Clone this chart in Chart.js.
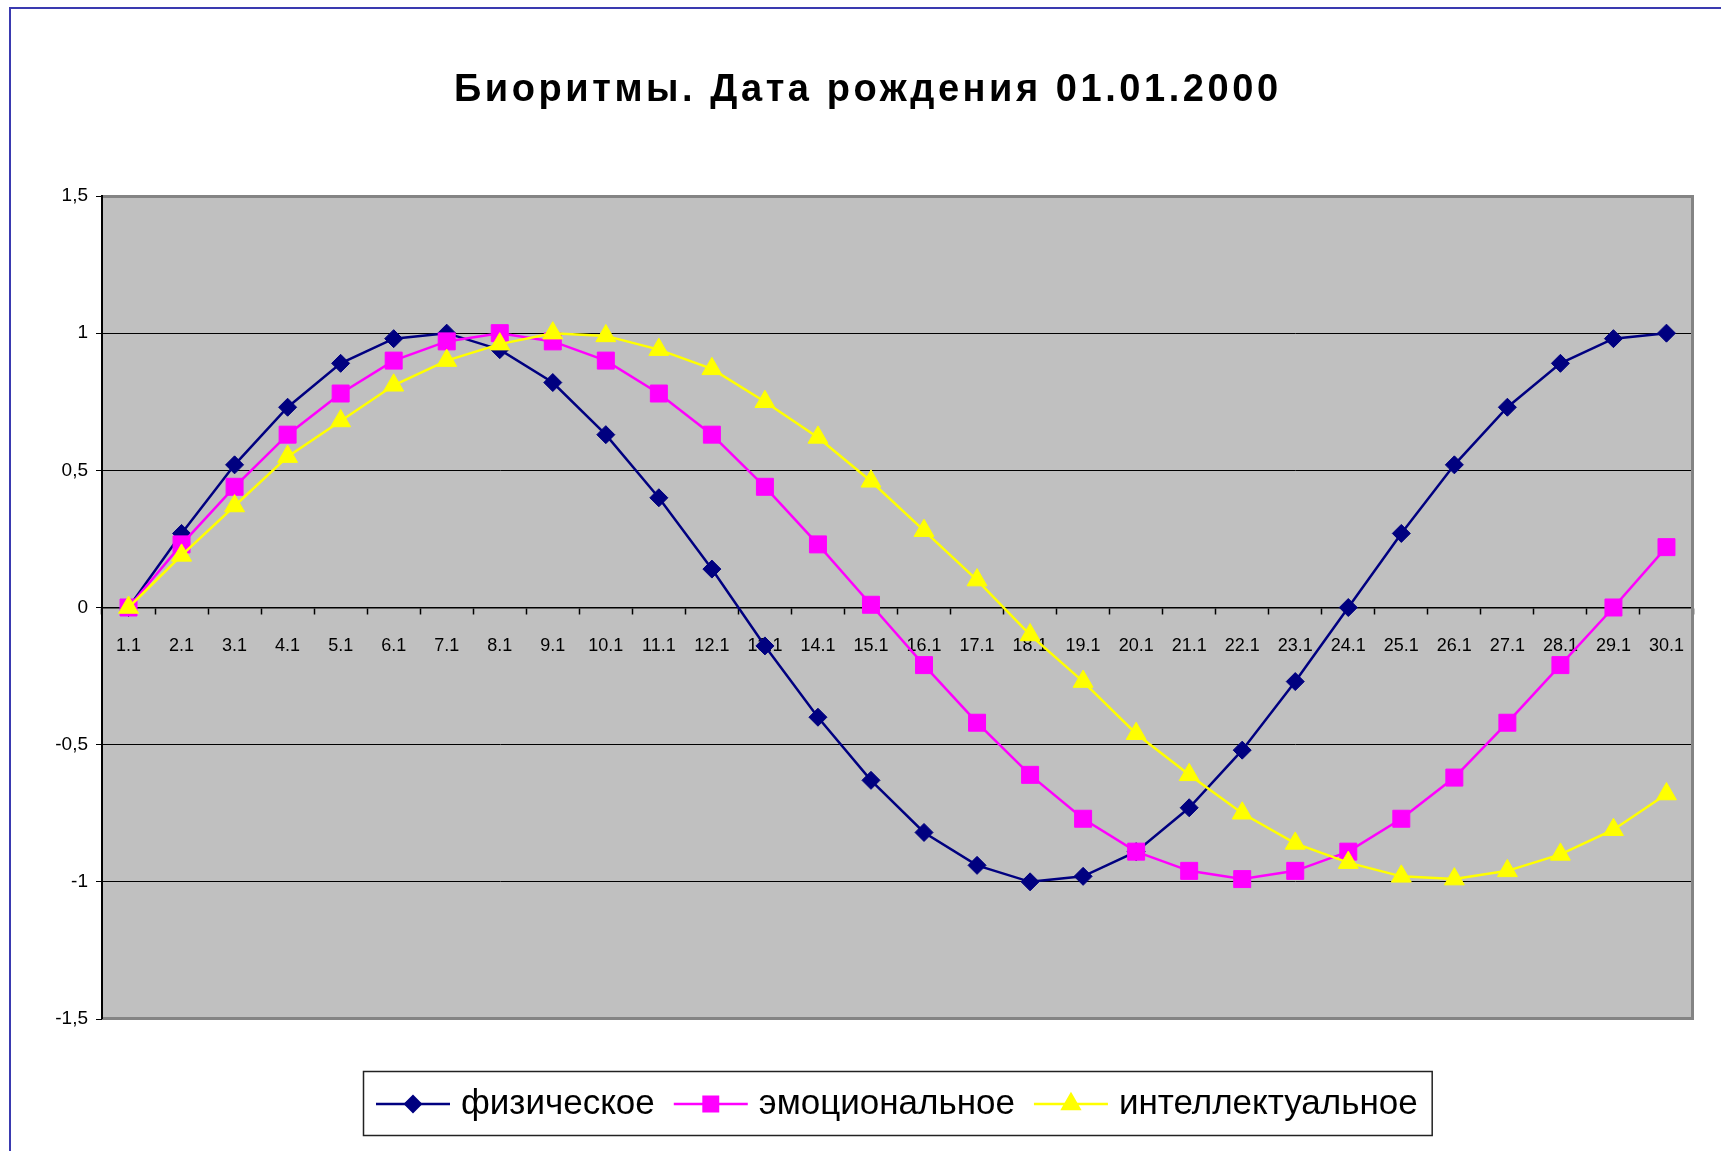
<!DOCTYPE html>
<html>
<head>
<meta charset="utf-8">
<script src="https://cdn.jsdelivr.net/npm/chart.js@4/dist/chart.umd.min.js"></script>
<style>
  html, body { margin: 0; padding: 0; background: #ffffff; overflow: hidden; }
  #wrap { position: relative; width: 1721px; height: 1151px; }
</style>
</head>
<body>
<div id="wrap"><canvas id="c"></canvas></div>
<script>
// ---- data ----
const categories = ['1.1','2.1','3.1','4.1','5.1','6.1','7.1','8.1','9.1','10.1',
  '11.1','12.1','13.1','14.1','15.1','16.1','17.1','18.1','19.1','20.1',
  '21.1','22.1','23.1','24.1','25.1','26.1','27.1','28.1','29.1','30.1'];
const physicalValues = [0, 0.27, 0.52, 0.73, 0.89, 0.98, 1.0, 0.94, 0.82, 0.63,
  0.40, 0.14, -0.14, -0.40, -0.63, -0.82, -0.94, -1.0, -0.98, -0.89,
  -0.73, -0.52, -0.27, 0, 0.27, 0.52, 0.73, 0.89, 0.98, 1.0];
const emotionalValues = [0, 0.23, 0.44, 0.63, 0.78, 0.90, 0.97, 1.0, 0.97, 0.90,
  0.78, 0.63, 0.44, 0.23, 0.01, -0.21, -0.42, -0.61, -0.77, -0.89,
  -0.96, -0.99, -0.96, -0.89, -0.77, -0.62, -0.42, -0.21, 0.0, 0.22];
const intellectualValues = [0, 0.19, 0.37, 0.55, 0.68, 0.81, 0.90, 0.96, 1.0, 0.99,
  0.94, 0.87, 0.75, 0.62, 0.46, 0.28, 0.10, -0.10, -0.27, -0.46,
  -0.61, -0.75, -0.86, -0.93, -0.98, -0.99, -0.96, -0.90, -0.81, -0.68];
const seriesNames = ['физическое', 'эмоциональное', 'интеллектуальное'];
const titleText = 'Биоритмы. Дата рождения 01.01.2000';
const yMin = -1.5, yMax = 1.5, yStep = 0.5;

const FONT = '"Liberation Sans", Arial, sans-serif';

const frameBackground = {
  id: 'frameBackground',
  beforeDraw(chart) {
    const { ctx, chartArea: a } = chart;
    ctx.save();
    ctx.fillStyle = '#ffffff';
    ctx.fillRect(0, 0, chart.width, chart.height);
    // outer blue frame (left & top visible)
    ctx.strokeStyle = '#3a3ab0';
    ctx.lineWidth = 2;
    ctx.beginPath();
    ctx.moveTo(10, chart.height + 2);
    ctx.lineTo(10, 8);
    ctx.lineTo(chart.width + 2, 8);
    ctx.stroke();
    // plot area
    ctx.fillStyle = '#c0c0c0';
    ctx.fillRect(a.left, a.top, a.right - a.left, a.bottom - a.top);
    // title (slightly spaced, Excel style)
    ctx.font = 'bold 38px ' + FONT;
    ctx.fillStyle = '#000000';
    ctx.textBaseline = 'alphabetic';
    ctx.textAlign = 'left';
    const target = 824;
    const base = ctx.measureText(titleText).width;
    const n = Array.from(titleText).length;
    const sp = Math.max(0, (target - base) / (n - 1));
    if ('letterSpacing' in ctx) {
      ctx.letterSpacing = sp.toFixed(2) + 'px';
      ctx.fillText(titleText, 866 - target / 2, 101);
      ctx.letterSpacing = '0px';
    } else {
      let x = 866 - target / 2;
      for (const ch of titleText) { ctx.fillText(ch, x, 101); x += ctx.measureText(ch).width + sp; }
    }
    ctx.restore();
  },
  beforeDatasetsDraw(chart) {
    const { ctx, chartArea: a } = chart;
    ctx.save();
    ctx.strokeStyle = '#848484';
    ctx.lineWidth = 3;
    ctx.beginPath();
    ctx.moveTo(a.left, a.top + 0.5);
    ctx.lineTo(a.right - 0.5, a.top + 0.5);
    ctx.lineTo(a.right - 0.5, a.bottom - 0.5);
    ctx.lineTo(a.left, a.bottom - 0.5);
    ctx.stroke();
    ctx.strokeStyle = '#000000';
    ctx.lineWidth = 2;
    ctx.beginPath();
    ctx.moveTo(a.left, a.top - 1);
    ctx.lineTo(a.left, a.bottom);
    ctx.stroke();
    ctx.restore();
  }
};

const excelLegend = {
  id: 'excelLegend',
  afterDraw(chart) {
    const { ctx, chartArea: a } = chart;
    ctx.save();
    ctx.font = '35px ' + FONT;
    const lineLen = 74, gapText = 11, gapItem = 19, padL = 13, padR = 14;
    const ds = chart.data.datasets;
    const widths = ds.map(d => ctx.measureText(d.label).width);
    let total = padL + padR;
    widths.forEach((w, i) => { total += lineLen + gapText + w + (i ? gapItem : 0); });
    const cx = (a.left + a.right) / 2;
    const boxL = Math.round(cx - total / 2), boxT = a.bottom + 52, boxH = 64;
    ctx.strokeStyle = '#222222';
    ctx.lineWidth = 1.5;
    ctx.strokeRect(boxL + 0.5, boxT + 0.5, total, boxH);
    const midY = boxT + boxH / 2 + 1;
    let x = boxL + padL;
    ds.forEach((d, i) => {
      if (i) x += gapItem;
      ctx.strokeStyle = d.borderColor;
      ctx.lineWidth = 2.5;
      ctx.beginPath();
      ctx.moveTo(x, midY);
      ctx.lineTo(x + lineLen, midY);
      ctx.stroke();
      ctx.fillStyle = d.pointBackgroundColor;
      ctx.strokeStyle = d.pointBorderColor;
      Chart.helpers.drawPoint(ctx, { pointStyle: d.pointStyle, radius: d.pointRadius * 0.85, rotation: 0, borderWidth: 1 }, x + lineLen / 2, midY);
      x += lineLen + gapText;
      ctx.fillStyle = '#000000';
      ctx.textBaseline = 'middle';
      ctx.textAlign = 'left';
      ctx.fillText(d.label, x, midY);
      x += widths[i];
    });
    ctx.restore();
  }
};

function mkSet(label, data, color, style, radius, order) {
  return {
    label, data,
    borderColor: color, backgroundColor: color,
    pointBackgroundColor: color, pointBorderColor: color,
    pointStyle: style, pointRadius: radius, pointHoverRadius: radius,
    pointBorderWidth: 1, borderWidth: 2.5, tension: 0, order
  };
}

new Chart(document.getElementById('c'), {
  type: 'line',
  data: {
    labels: categories,
    datasets: [
      mkSet(seriesNames[0], physicalValues, '#000080', 'rectRot', 9, 2),
      mkSet(seriesNames[1], emotionalValues, '#ff00ff', 'rect', 12, 1),
      mkSet(seriesNames[2], intellectualValues, '#ffff00', 'triangle', 11.5, 0)
    ]
  },
  options: {
    responsive: true,
    maintainAspectRatio: false,
    animation: false,
    devicePixelRatio: 1,
    layout: { padding: { left: 12, right: 28, top: 196, bottom: 132 } },
    plugins: {
      legend: { display: false },
      tooltip: { enabled: false },
      title: { display: false }
    },
    scales: {
      x: {
        type: 'category',
        position: { y: 0 },
        offset: true,
        grid: { drawOnChartArea: false, drawTicks: true, tickLength: 6, tickColor: '#000000', tickWidth: 1.5, offset: true },
        border: { display: true, color: '#000000', width: 1.5 },
        ticks: { color: '#000000', font: { family: FONT, size: 18 }, padding: 22, maxRotation: 0, autoSkip: false }
      },
      y: {
        min: yMin, max: yMax,
        afterFit(scale) { scale.width = 90; },
        grid: {
          color: (c) => (Math.abs(c.tick.value) === 1.5 ? 'rgba(0,0,0,0)' : '#000000'),
          lineWidth: 1,
          tickLength: 6,
          tickColor: '#000000',
          drawTicks: true
        },
        border: { display: true, color: '#000000', width: 2 },
        ticks: {
          stepSize: yStep,
          color: '#000000',
          padding: 8,
          font: { family: FONT, size: 19 },
          callback: (v) => String(v).replace('.', ',')
        }
      }
    }
  },
  plugins: [frameBackground, excelLegend]
});
</script>
</body>
</html>
